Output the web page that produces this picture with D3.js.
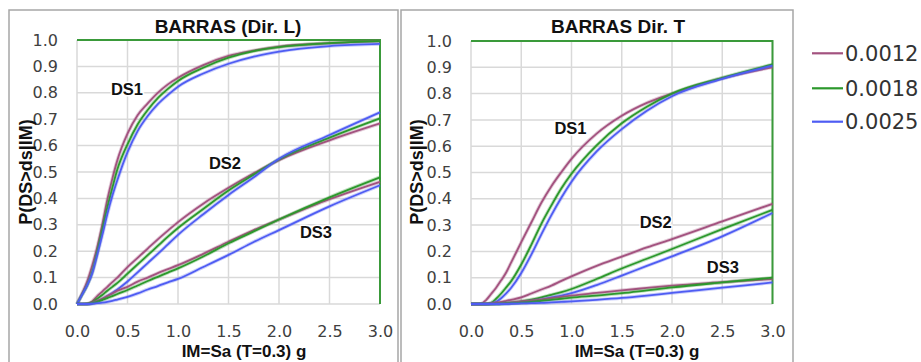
<!DOCTYPE html>
<html><head><meta charset="utf-8">
<script src="https://cdn.jsdelivr.net/npm/d3@7/dist/d3.min.js"></script>
<style>
html,body{margin:0;padding:0;background:#fff;}
svg{display:block;}
</style></head>
<body>
<svg id="chart" width="921" height="362"></svg>
<script>
// ---------- DATA ----------
const IM = [0, 0.05, 0.1, 0.15, 0.2, 0.25, 0.3, 0.35, 0.4, 0.5, 0.6, 0.7, 0.8, 0.9, 1.0, 1.25, 1.5, 1.75, 2.0, 2.5, 3.0];
const seriesNames = ["0.0012", "0.0018", "0.0025"];
const xTicks = [0, 0.5, 1.0, 1.5, 2.0, 2.5, 3.0];
const yTicks = [0, 0.1, 0.2, 0.3, 0.4, 0.5, 0.6, 0.7, 0.8, 0.9, 1.0];
const panelTitles = ["BARRAS (Dir. L)", "BARRAS Dir. T"];
const dsLabels = ["DS1", "DS2", "DS3"];

// Dir. L
const L_DS1_0012 = [0, 0.04, 0.085, 0.145, 0.215, 0.30, 0.395, 0.475, 0.545, 0.645, 0.715, 0.76, 0.80, 0.832, 0.857, 0.905, 0.94, 0.96, 0.975, 0.988, 0.996];
const L_DS1_0018 = [0, 0.035, 0.07, 0.12, 0.195, 0.28, 0.365, 0.44, 0.51, 0.605, 0.68, 0.735, 0.78, 0.815, 0.845, 0.895, 0.933, 0.958, 0.973, 0.988, 0.996];
const L_DS1_0025 = [0, 0.035, 0.07, 0.115, 0.185, 0.26, 0.34, 0.41, 0.47, 0.575, 0.655, 0.712, 0.757, 0.792, 0.823, 0.873, 0.91, 0.937, 0.956, 0.977, 0.985];
const L_DS2_0012 = [0, 0, 0.001, 0.01, 0.03, 0.047, 0.065, 0.083, 0.10, 0.14, 0.175, 0.21, 0.245, 0.278, 0.31, 0.38, 0.44, 0.495, 0.545, 0.62, 0.684];
const L_DS2_0018 = [0, 0, 0.0005, 0.006, 0.02, 0.034, 0.05, 0.065, 0.08, 0.115, 0.15, 0.185, 0.22, 0.255, 0.288, 0.36, 0.43, 0.49, 0.548, 0.63, 0.703];
const L_DS2_0025 = [0, 0, 0, 0.002, 0.01, 0.019, 0.03, 0.042, 0.055, 0.085, 0.12, 0.155, 0.19, 0.226, 0.262, 0.34, 0.413, 0.48, 0.55, 0.64, 0.726];
const L_DS3_0012 = [0, 0, 0.0005, 0.005, 0.012, 0.02, 0.03, 0.04, 0.05, 0.065, 0.085, 0.10, 0.117, 0.132, 0.147, 0.19, 0.236, 0.28, 0.32, 0.397, 0.463];
const L_DS3_0018 = [0, 0, 0.0003, 0.003, 0.008, 0.015, 0.022, 0.03, 0.038, 0.053, 0.07, 0.087, 0.103, 0.119, 0.135, 0.18, 0.23, 0.275, 0.32, 0.404, 0.48];
const L_DS3_0025 = [0, 0, 0, 0.001, 0.003, 0.005, 0.008, 0.012, 0.017, 0.027, 0.04, 0.055, 0.068, 0.082, 0.095, 0.14, 0.186, 0.235, 0.28, 0.37, 0.45];

// Dir. T
const T_DS1_0012 = [0, 0, 0.001, 0.015, 0.038, 0.062, 0.09, 0.12, 0.158, 0.235, 0.31, 0.385, 0.448, 0.502, 0.552, 0.648, 0.716, 0.765, 0.80, 0.858, 0.90];
const T_DS1_0018 = [0, 0, 0, 0, 0.004, 0.02, 0.04, 0.063, 0.087, 0.15, 0.225, 0.305, 0.375, 0.44, 0.495, 0.603, 0.687, 0.75, 0.80, 0.86, 0.911];
const T_DS1_0025 = [0, 0, 0, 0, 0.001, 0.008, 0.022, 0.04, 0.062, 0.118, 0.188, 0.265, 0.338, 0.405, 0.465, 0.58, 0.665, 0.735, 0.79, 0.856, 0.906];
const T_DS2_0012 = [0, 0, 0, 0, 0.003, 0.005, 0.008, 0.012, 0.016, 0.025, 0.04, 0.055, 0.07, 0.088, 0.105, 0.145, 0.18, 0.215, 0.247, 0.314, 0.381];
const T_DS2_0018 = [0, 0, 0, 0, 0, 0.001, 0.002, 0.003, 0.005, 0.01, 0.017, 0.025, 0.035, 0.045, 0.057, 0.095, 0.135, 0.172, 0.209, 0.285, 0.358];
const T_DS2_0025 = [0, 0, 0, 0, 0, 0, 0.001, 0.002, 0.003, 0.006, 0.011, 0.017, 0.025, 0.032, 0.041, 0.072, 0.108, 0.145, 0.181, 0.257, 0.346];
const T_DS3_0012 = [0, 0, 0, 0, 0.001, 0.002, 0.003, 0.004, 0.006, 0.01, 0.013, 0.017, 0.022, 0.027, 0.032, 0.042, 0.052, 0.061, 0.07, 0.083, 0.095];
const T_DS3_0018 = [0, 0, 0, 0, 0, 0, 0.001, 0.002, 0.003, 0.005, 0.008, 0.012, 0.016, 0.02, 0.024, 0.032, 0.041, 0.052, 0.063, 0.082, 0.10];
const T_DS3_0025 = [0, 0, 0, 0, 0, 0, 0, 0, 0.001, 0.002, 0.003, 0.004, 0.006, 0.008, 0.01, 0.016, 0.023, 0.032, 0.042, 0.062, 0.082];

// ---------- LAYOUT / STYLE ----------
const colors = ["#A3527F", "#2C982C", "#4E5CF3"];
const panels = [
  { title: panelTitles[0], frame: [9, 10, 389], x0: 77, x1: 380, y0: 304, y1: 40,
    titleX: 228, xTitleX: 244, yTitleX: 31.5,
    ds: [[L_DS1_0012, L_DS1_0018, L_DS1_0025], [L_DS2_0012, L_DS2_0018, L_DS2_0025], [L_DS3_0012, L_DS3_0018, L_DS3_0025]],
    labels: [[127, 89], [225, 163], [316, 232]] },
  { title: panelTitles[1], frame: [401, 10, 392], x0: 471, x1: 772.5, y0: 304, y1: 41,
    titleX: 618, xTitleX: 637, yTitleX: 423,
    ds: [[T_DS1_0012, T_DS1_0018, T_DS1_0025], [T_DS2_0012, T_DS2_0018, T_DS2_0025], [T_DS3_0012, T_DS3_0018, T_DS3_0025]],
    labels: [[570.5, 128], [655.7, 222], [722.8, 267]] }
];

const svg = d3.select("#chart");
const tickFont = "'DejaVu Sans', sans-serif";
const boldFont = "'Liberation Sans', Arial, sans-serif";

panels.forEach(p => {
  const g = svg.append("g");
  g.append("rect").attr("x", p.frame[0]).attr("y", p.frame[1])
    .attr("width", p.frame[2]).attr("height", 400)
    .attr("fill", "none").attr("stroke", "#A6A6A6").attr("stroke-width", 1.5);

  const x = d3.scaleLinear().domain([0, 3]).range([p.x0, p.x1]);
  const y = d3.scaleLinear().domain([0, 1]).range([p.y0, p.y1]);

  g.append("g").selectAll("line").data(xTicks).join("line")
    .attr("x1", d => x(d)).attr("x2", d => x(d)).attr("y1", y(0)).attr("y2", y(1))
    .attr("stroke", "#D9D9D9").attr("stroke-width", 1.5);
  g.append("g").selectAll("line").data(yTicks).join("line")
    .attr("x1", x(0)).attr("x2", x(3)).attr("y1", d => y(d)).attr("y2", d => y(d))
    .attr("stroke", "#D9D9D9").attr("stroke-width", 1.5);
  g.append("path")
    .attr("d", `M${x(0)},${y(1)}H${x(3)}V${y(0)}`)
    .attr("fill", "none").attr("stroke", "#3A9A3A").attr("stroke-width", 2);

  const ax = g.append("g").attr("transform", `translate(${p.x0},0)`)
    .call(d3.axisLeft(y).tickValues(yTicks).tickFormat(d3.format(".1f")).tickSize(0).tickPadding(19));
  const bx = g.append("g").attr("transform", `translate(0,${p.y0})`)
    .call(d3.axisBottom(x).tickValues(xTicks).tickFormat(d3.format(".1f")).tickSize(0).tickPadding(22));
  [ax, bx].forEach(a => {
    a.select(".domain").remove();
    a.selectAll("text").attr("font-family", tickFont).attr("font-size", 16).attr("fill", "#404040");
  });

  const line = d3.line().x((d, i) => x(IM[i])).y(d => y(d)).curve(d3.curveMonotoneX);
  p.ds.forEach(group => {
    group.forEach((vals, si) => {
      g.append("path").attr("d", line(vals)).attr("fill", "none")
        .attr("stroke", colors[si]).attr("stroke-opacity", 0.3).attr("stroke-width", 3.6);
      g.append("path").attr("d", line(vals)).attr("fill", "none")
        .attr("stroke", colors[si]).attr("stroke-width", 1.8);
    });
  });

  p.labels.forEach((pos, i) => {
    g.append("text").attr("x", pos[0]).attr("y", pos[1] + 6)
      .attr("text-anchor", "middle").attr("font-family", boldFont)
      .attr("font-weight", "bold").attr("font-size", 16.5)
      .attr("stroke", "#fff").attr("stroke-width", 3).attr("paint-order", "stroke")
      .attr("fill", "#111").text(dsLabels[i]);
  });

  g.append("text").attr("x", p.titleX).attr("y", 33).attr("text-anchor", "middle")
    .attr("font-family", boldFont).attr("font-weight", "bold").attr("font-size", 19)
    .attr("fill", "#111").text(p.title);
  g.append("text").attr("x", p.xTitleX).attr("y", 357).attr("text-anchor", "middle")
    .attr("font-family", boldFont).attr("font-weight", "bold").attr("font-size", 17)
    .attr("fill", "#111").text("IM=Sa (T=0.3) g");
  g.append("text").attr("transform", `translate(${p.yTitleX},172) rotate(-90)`)
    .attr("text-anchor", "middle")
    .attr("font-family", boldFont).attr("font-weight", "bold").attr("font-size", 18)
    .attr("fill", "#111").text("P(DS>ds|IM)");
});

const legY = [53.3, 88.3, 121.7];
const leg = svg.append("g");
seriesNames.forEach((name, i) => {
  leg.append("line").attr("x1", 812).attr("x2", 843).attr("y1", legY[i]).attr("y2", legY[i])
    .attr("stroke", colors[i]).attr("stroke-width", 2.2);
  leg.append("text").attr("x", 845).attr("y", legY[i]).attr("dy", "0.36em")
    .attr("font-family", tickFont).attr("font-size", 21).attr("fill", "#333").text(name);
});
</script>
</body></html>
